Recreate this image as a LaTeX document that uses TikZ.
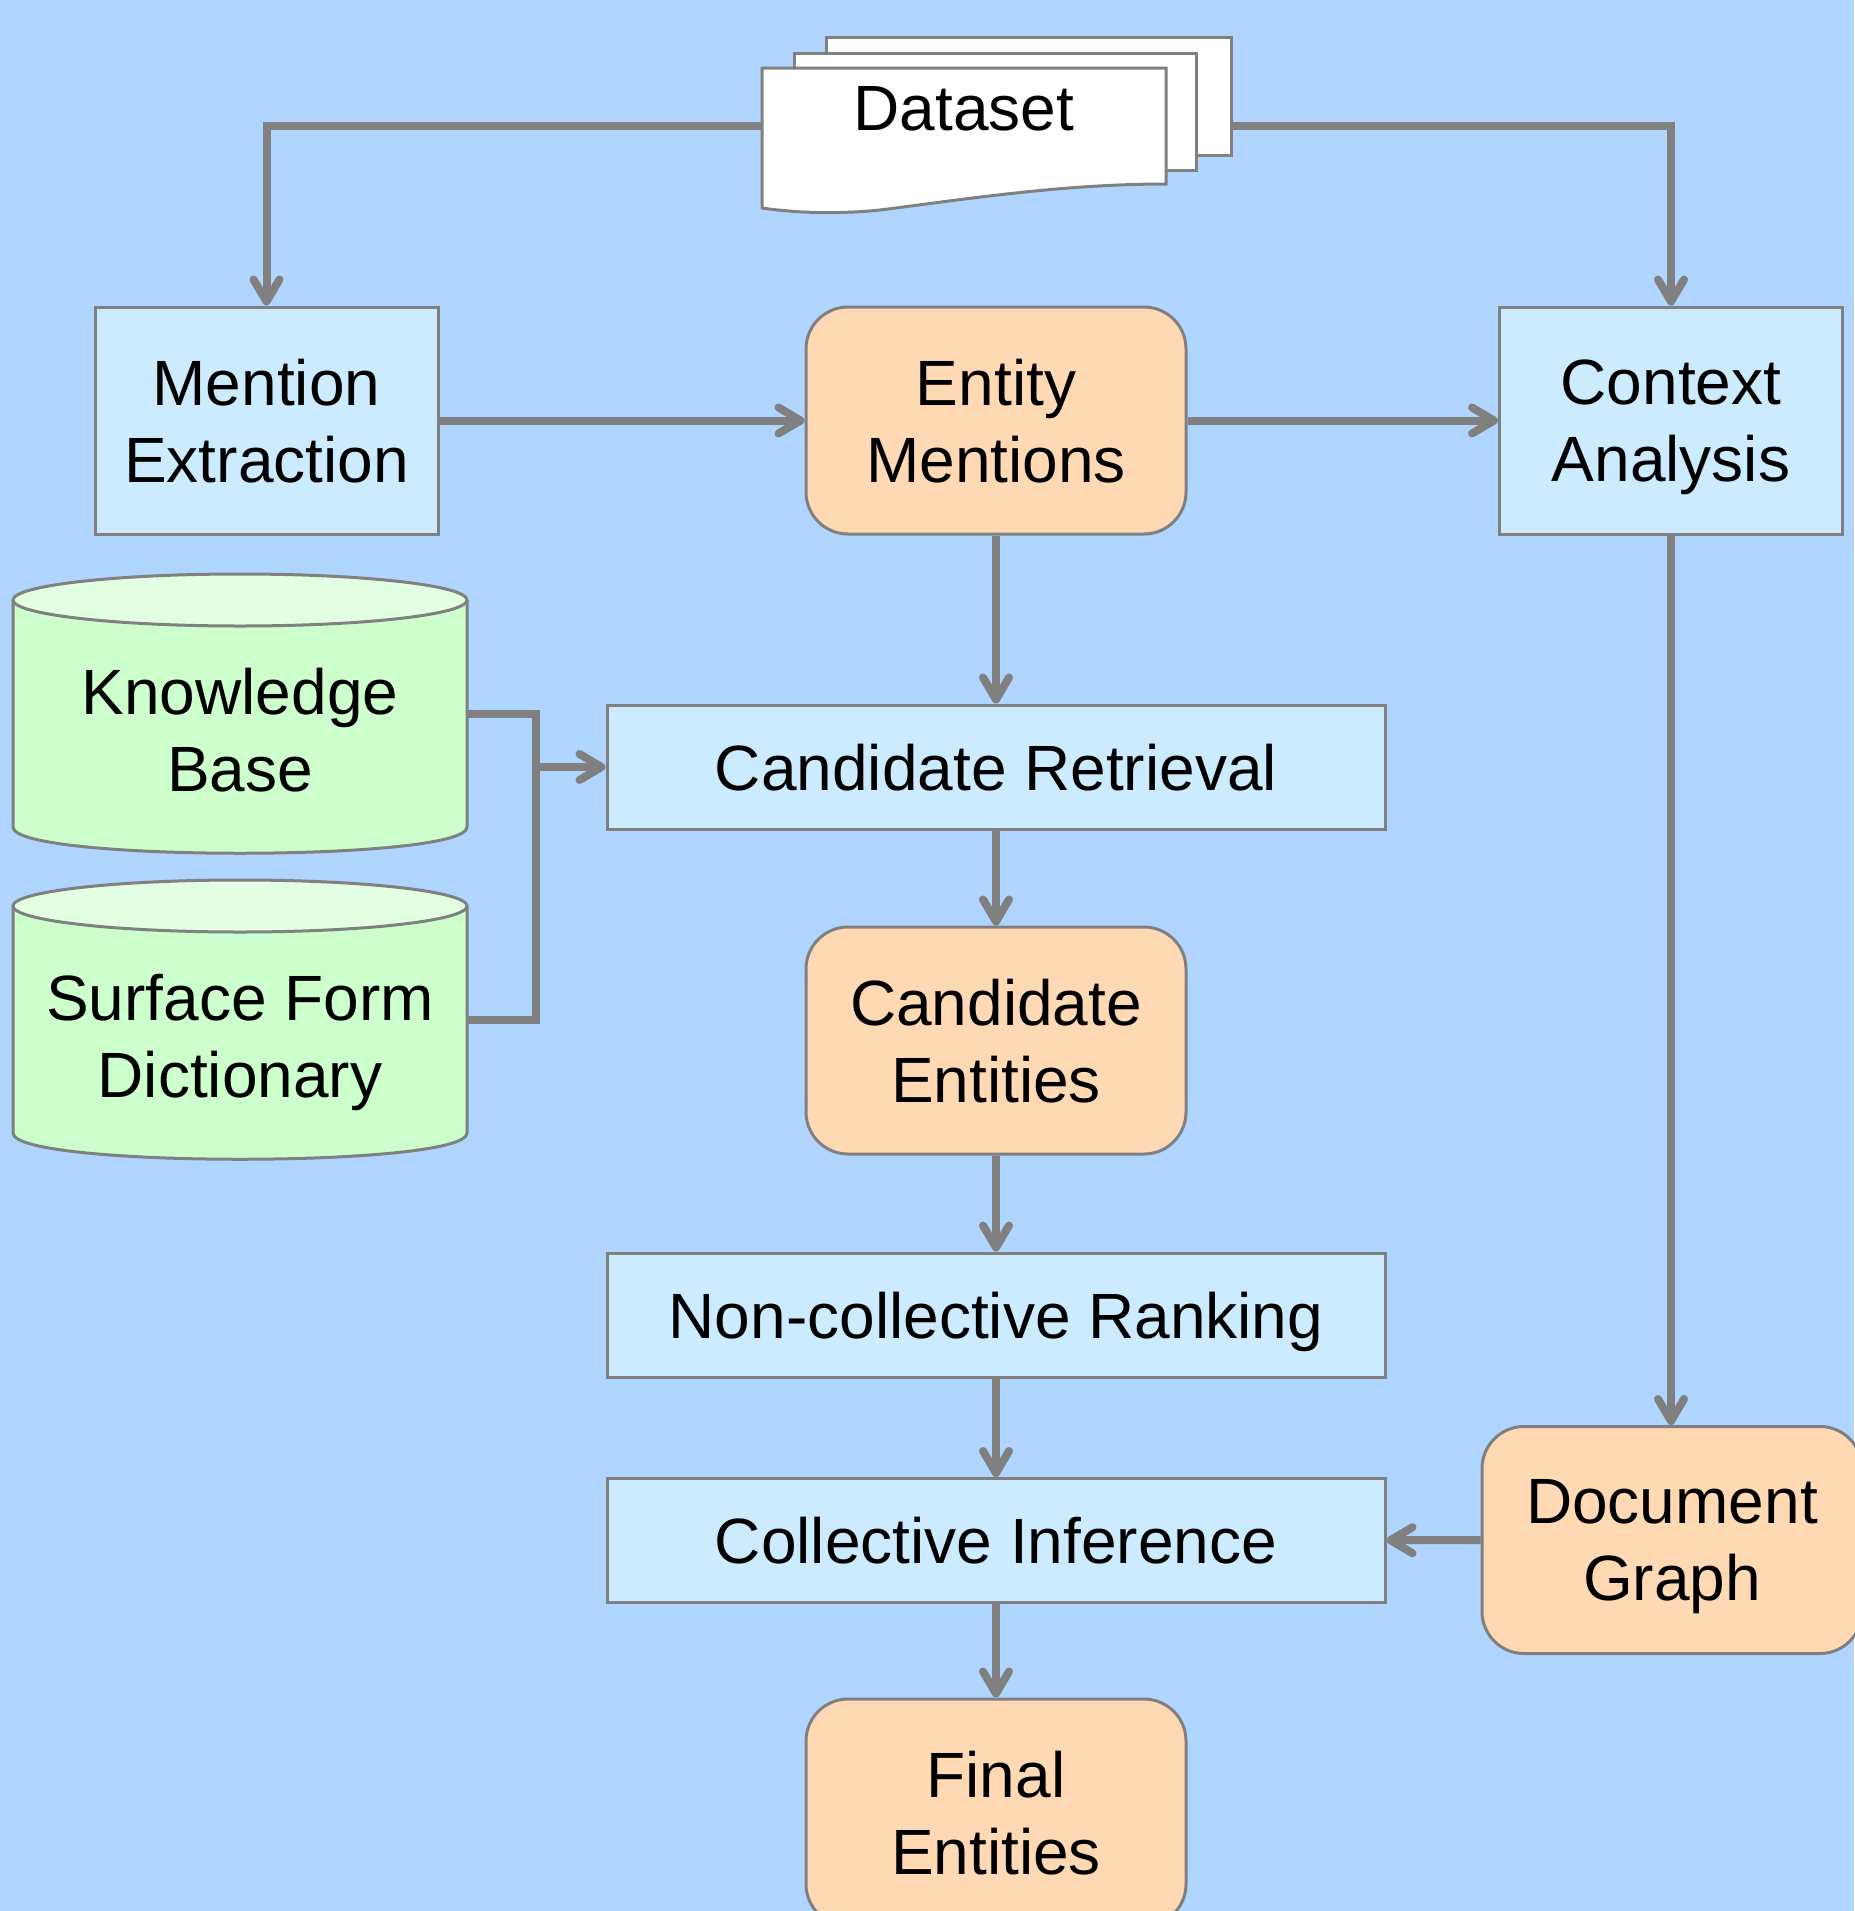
\documentclass[tikz,border=0pt]{standalone}
\usepackage{fontspec}
\setmainfont{Liberation Sans}
\usetikzlibrary{arrows.meta}

\definecolor{bgblue}{RGB}{176,213,255}
\definecolor{procblue}{RGB}{204,235,255}
\definecolor{dataorange}{RGB}{255,217,179}
\definecolor{cylgreen}{RGB}{204,255,204}
\definecolor{cyltop}{RGB}{226,255,226}
\definecolor{linegray}{RGB}{128,128,128}

\tikzset{
    procbox/.style={draw=linegray, line width=1.5pt, fill=procblue, minimum width=171.5pt, minimum height=113.5pt, align=center, inner sep=0pt, text depth=0pt},
    widebox/.style={procbox, minimum width=389pt, minimum height=62pt},
    databox/.style={procbox, fill=dataorange, rounded corners=21pt, minimum width=190pt},
    storetext/.style={minimum width=227pt, minimum height=123pt, align=center, inner sep=0pt, text depth=0pt},
    link/.style={draw=linegray, line width=4pt},
    flow/.style={link, -{Straight Barb[length=11pt,width=13pt,line cap=round,line join=round]}},
    sheet/.style={draw=linegray, line width=1.5pt, fill=white}
}

\begin{document}
\begin{tikzpicture}[x=0.5pt, y=-0.5pt, font=\fontsize{32}{38.4}\selectfont]
	\fill[bgblue] (0,0) rectangle (1854,1911);
	\useasboundingbox (0,0) rectangle (1854,1911);

	% dataset pages
	\draw[sheet] (826,37) rectangle (1231,155);
	\draw[sheet] (794,53) rectangle (1196,170);
	\draw[sheet] (762,68) -- (1166,68) -- (1166,184) .. controls (1060,184) and (960,200) .. (880,210) .. controls (830,215) and (790,212) .. (762,208) -- cycle;
	\node[text depth=0pt] (dataset) at (964,108) {Dataset};
	\coordinate (dsleft) at (762,126);
	\coordinate (dsright) at (1231,126);

	% stores
	\draw[sheet, fill=cylgreen] (13,600) -- (13,827) .. controls (13,862) and (467,862) .. (467,827) -- (467,600);
	\draw[sheet, fill=cyltop] (240,600) ellipse [x radius=113.5pt, y radius=13pt];
	\draw[sheet, fill=cylgreen] (13,906) -- (13,1133) .. controls (13,1168) and (467,1168) .. (467,1133) -- (467,906);
	\draw[sheet, fill=cyltop] (240,906) ellipse [x radius=113.5pt, y radius=13pt];
	\node[storetext] (kb) at (240,730) {Knowledge\\Base};
	\node[storetext] (sfd) at (240,1036) {Surface Form\\Dictionary};

	\node[procbox] (mention) at (266.5,420.5) {Mention\\Extraction};
	\node[databox] (mentions) at (996,420.5) {Entity\\Mentions};
	\node[procbox] (context) at (1671,420.5) {Context\\Analysis};
	\node[widebox] (retrieval) at (996,767) {Candidate Retrieval};
	\node[databox] (candidates) at (996,1040.5) {Candidate\\Entities};
	\node[widebox] (ranking) at (996,1315) {Non-collective Ranking};
	\node[widebox] (inference) at (996,1540.5) {Collective Inference};
	\node[databox] (final) at (996,1812.5) {Final\\Entities};
	\node[databox] (docgraph) at (1672,1540) {Document\\Graph};

	\draw[flow] (dsleft) -| (mention.north);
	\draw[flow] (dsright) -| (context.north);
	\draw[flow] (mention) -- (mentions);
	\draw[flow] (mentions) -- (context);
	\draw[flow] (mentions) -- (retrieval);

	\coordinate (merge) at (536,767);
	\draw[link] ([yshift=8pt]kb.east) -| (merge) |- ([yshift=8pt]sfd.east);
	\draw[flow] (merge) -- (retrieval);

	\draw[flow] (retrieval) -- (candidates);
	\draw[flow] (candidates) -- (ranking);
	\draw[flow] (ranking) -- (inference);
	\draw[flow] (inference) -- (final);
	\draw[flow] (context) -- (context |- docgraph.north);
	\draw[flow] (docgraph) -- (inference);
\end{tikzpicture}
\end{document}
